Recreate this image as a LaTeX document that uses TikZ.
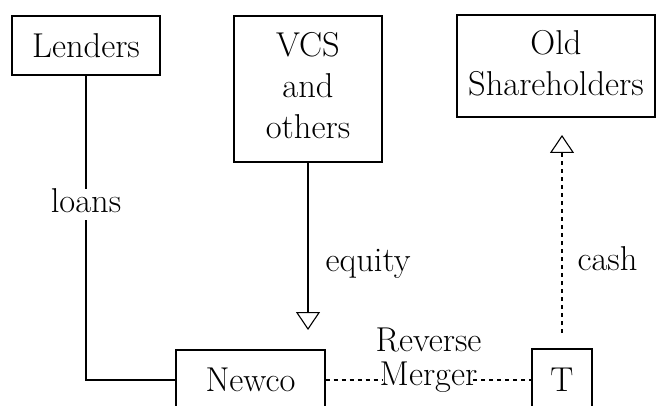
\documentclass[tikz,border=0pt]{standalone}
\usetikzlibrary{arrows.meta}
\begin{document}
\begin{tikzpicture}[x=1pt,y=-1pt,
  line width=1.1pt,
  every node/.style={font=\fontsize{34.5}{41}\selectfont},
  box/.style={draw,inner sep=0pt,align=center},
  lbl/.style={inner sep=0pt},
  flowdash/.style={dash pattern=on 4pt off 4pt},
  opentip/.style={-{Triangle[open,width=24pt,length=18pt,line width=1.1pt]}}]
\useasboundingbox (0,0) rectangle (656,406);
\clip (0,0) rectangle (656,406);

% parties
\node[box,minimum width=148pt,minimum height=59pt] (lenders) at (86,45.5) {Lenders};
\node[box,minimum width=148pt,minimum height=146pt,text depth=7pt] (vcs) at (308,89) {VCS\\and\\others};
\node[box,minimum width=198pt,minimum height=102pt,text depth=7pt] (old) at (556,66) {Old\\Shareholders};
\node[box,minimum width=149pt,minimum height=60pt] (newco) at (250.5,380) {Newco};
\node[box,minimum width=60pt,minimum height=62pt] (t) at (562,380) {T};

% loans
\draw (lenders.south) |- (newco.west);
\node[lbl,fill=white,anchor=base,text depth=7pt,inner xsep=2pt] (loans) at (86,213) {loans};

% equity
\coordinate (eqtip) at (308,330);
\draw[opentip] (vcs.south) -- (eqtip);
\node[lbl,anchor=base west] (equity) at (325,271) {equity};

% cash
\coordinate (cashfoot) at (562,333);
\coordinate (cashtip) at (562,135);
\draw[flowdash,opentip] (cashfoot) -- (cashtip);
\node[lbl,anchor=base west] (cash) at (577,270) {cash};

% reverse merger: label sits on the dashed link, which stops at the word
\node[lbl,align=center,font=\fontsize{34.5}{34}\selectfont] (rm) at (428.5,360.5) {Reverse\\Merger};
\coordinate (rmleft) at (383,380);
\coordinate (rmright) at (473,380);
\draw[flowdash] (newco.east) -- (rmleft);
\draw[flowdash] (rmright) -- (t.west);
\end{tikzpicture}
\end{document}
